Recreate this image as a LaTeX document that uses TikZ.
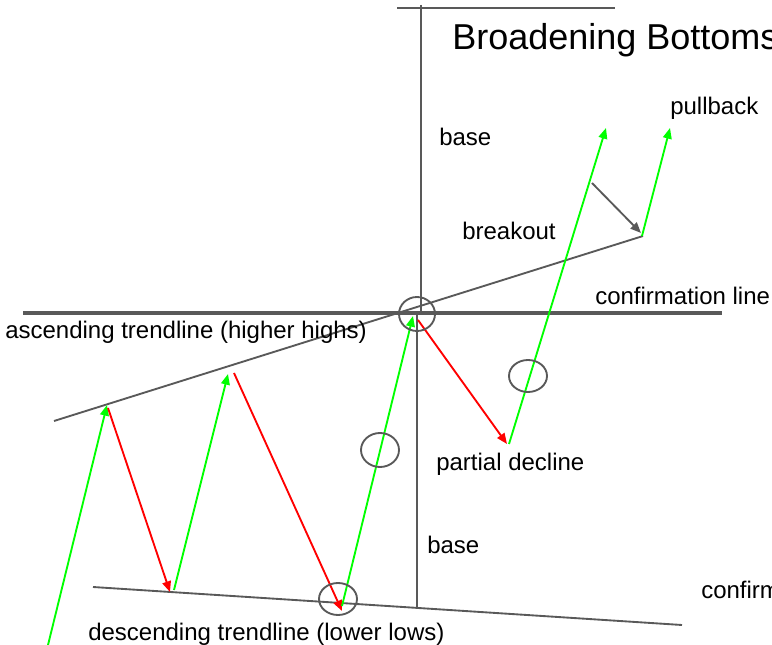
\documentclass[tikz,border=0pt]{standalone}
\usepackage{fontspec}
\setmainfont{Liberation Sans}
\usetikzlibrary{arrows.meta,shapes.geometric}
\definecolor{lgray}{HTML}{595959}
\definecolor{upg}{HTML}{00FF00}
\definecolor{downr}{HTML}{FF0000}
\tikzset{
  axis/.style={draw=lgray,line width=1.4pt},
  conf/.style={draw=lgray,line width=2.8pt},
  trend/.style={draw=lgray,line width=1.4pt},
  up/.style={draw=upg,line width=1.4pt,-{Triangle[length=8pt,width=6.5pt]}},
  down/.style={draw=downr,line width=1.4pt,-{Triangle[length=8pt,width=6.5pt]}},
  pull/.style={draw=lgray,line width=1.4pt,-{Triangle[length=8pt,width=6.5pt]}},
  ring/.style={ellipse,draw=lgray,line width=1.4pt,inner sep=0pt},
  lbl/.style={anchor=base west,inner sep=0pt,font=\fontsize{18pt}{20pt}\selectfont},
  ttl/.style={anchor=base west,inner sep=0pt,font=\fontsize{27pt}{30pt}\selectfont}
}
\begin{document}
\begin{tikzpicture}[x=0.75pt,y=-0.75pt]
\useasboundingbox (0,0) rectangle (772,645);
% reference lines
\coordinate (th1) at (397,8);
\coordinate (th2) at (615,8);
\coordinate (vt1) at (421,5);
\coordinate (vt2) at (421,313);
\coordinate (vb1) at (417,315);
\coordinate (vb2) at (417,609);
\coordinate (cl1) at (23,313);
\coordinate (cl2) at (722,313);
\coordinate (as1) at (54,421);
\coordinate (as2) at (643,236);
\coordinate (ds1) at (93,587);
\coordinate (ds2) at (682,625);
\draw[axis] (th1) -- (th2);
\draw[axis] (vt1) -- (vt2);
\draw[axis] (vb1) -- (vb2);
\draw[conf] (cl1) -- (cl2);
\draw[trend] (as1) -- (as2);
\draw[trend] (ds1) -- (ds2);
% swing points
\coordinate (p0) at (48,645);
\coordinate (p1) at (107,405);
\coordinate (q1) at (108,408);
\coordinate (p2) at (170,592);
\coordinate (q2) at (174,590);
\coordinate (p3) at (228,374);
\coordinate (q3) at (234,373);
\coordinate (p4) at (342,611);
\coordinate (q4) at (342,606);
\coordinate (p5) at (413,316);
\coordinate (q5) at (418,320);
\coordinate (p6) at (507,444);
\coordinate (q6) at (509,444);
\coordinate (p7) at (606,128);
\coordinate (b1) at (592,183);
\coordinate (b2) at (641,233);
\coordinate (q8) at (642,236);
\coordinate (p8) at (670,128);
\draw[up] (p0) -- (p1);
\draw[down] (q1) -- (p2);
\draw[up] (q2) -- (p3);
\draw[down] (q3) -- (p4);
\draw[up] (q4) -- (p5);
\draw[down] (q5) -- (p6);
\draw[up] (q6) -- (p7);
\draw[pull] (b1) -- (b2);
\draw[up] (q8) -- (p8);
% circles
\node[ring,minimum width=27pt,minimum height=25.5pt] (c1) at (417,314) {};
\node[ring,minimum width=28.5pt,minimum height=24pt] (c2) at (528,376) {};
\node[ring,minimum width=28.5pt,minimum height=25.5pt] (c3) at (380,450) {};
\node[ring,minimum width=28.5pt,minimum height=24pt] (c4) at (338,599) {};
% labels
\node[ttl] (title) at (452,50) {Broadening Bottoms};
\node[lbl] (pb) at (670,115) {pullback};
\node[lbl] (bt) at (439,146) {base};
\node[lbl] (bo) at (462,240) {breakout};
\node[lbl] (cf) at (595,305) {confirmation line};
\node[lbl] (asc) at (5,339) {ascending trendline (higher highs)};
\node[lbl] (pd) at (436,471) {partial decline};
\node[lbl] (bb) at (427,553) {base};
\node[lbl] (cf2) at (701,598) {confirmation line};
\node[lbl] (dsc) at (88,640) {descending trendline (lower lows)};
\end{tikzpicture}
\end{document}
